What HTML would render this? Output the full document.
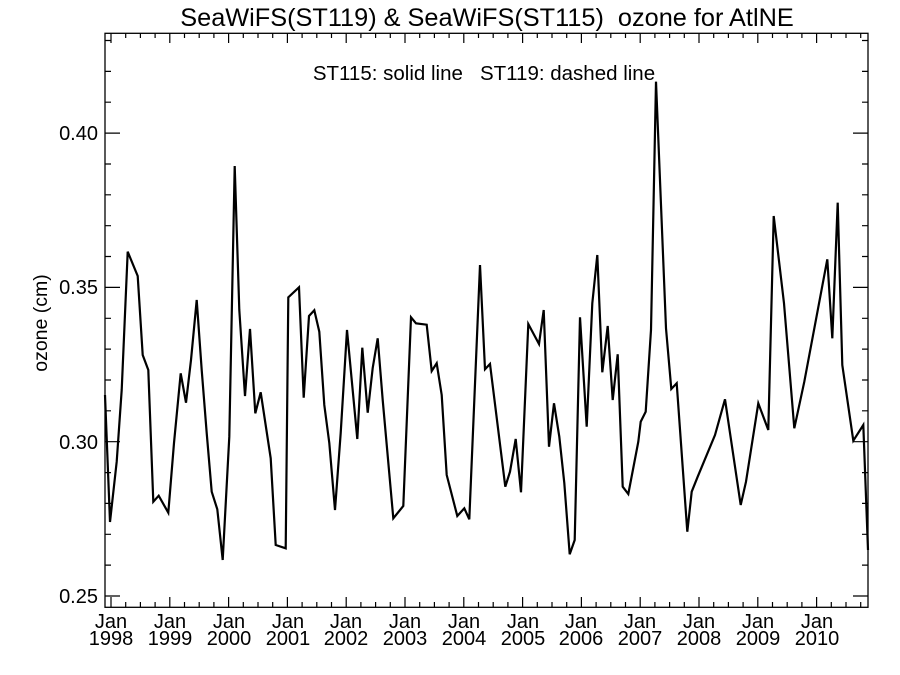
<!DOCTYPE html>
<html><head><meta charset="utf-8"><style>
html,body{margin:0;padding:0;background:#fff}
svg{display:block}
text{font-family:"Liberation Sans",Arial,sans-serif;fill:#000}
</style></head><body>
<svg width="900" height="675" viewBox="0 0 900 675" xmlns="http://www.w3.org/2000/svg">
<rect width="900" height="675" fill="#fff"/>
<text x="487" y="26" font-size="25.3" text-anchor="middle" xml:space="preserve">SeaWiFS(ST119) &amp; SeaWiFS(ST115)  ozone for AtlNE</text>
<text x="484" y="80" font-size="20.5" text-anchor="middle" xml:space="preserve">ST115: solid line   ST119: dashed line</text>
<rect x="105" y="33.3" width="763" height="574" fill="none" stroke="#000" stroke-width="1.3"/>
<g stroke="#000" stroke-width="1.2" fill="none">
<path d="M111 607v-10M125.7 607v-5M140.4 607v-5M155.1 607v-5M169.8 607v-10M184.5 607v-5M199.2 607v-5M213.9 607v-5M228.6 607v-10M243.3 607v-5M258 607v-5M272.7 607v-5M287.4 607v-10M302.1 607v-5M316.8 607v-5M331.5 607v-5M346.2 607v-10M360.9 607v-5M375.6 607v-5M390.3 607v-5M405 607v-10M419.7 607v-5M434.4 607v-5M449.1 607v-5M463.8 607v-10M478.5 607v-5M493.2 607v-5M507.9 607v-5M522.6 607v-10M537.3 607v-5M552 607v-5M566.7 607v-5M581.4 607v-10M596.1 607v-5M610.8 607v-5M625.5 607v-5M640.2 607v-10M654.9 607v-5M669.6 607v-5M684.3 607v-5M699 607v-10M713.7 607v-5M728.4 607v-5M743.1 607v-5M757.8 607v-10M772.5 607v-5M787.2 607v-5M801.9 607v-5M816.6 607v-10M831.3 607v-5M846 607v-5M860.7 607v-5"/>
<path d="M111 33v10M125.7 33v5M140.4 33v5M155.1 33v5M169.8 33v10M184.5 33v5M199.2 33v5M213.9 33v5M228.6 33v10M243.3 33v5M258 33v5M272.7 33v5M287.4 33v10M302.1 33v5M316.8 33v5M331.5 33v5M346.2 33v10M360.9 33v5M375.6 33v5M390.3 33v5M405 33v10M419.7 33v5M434.4 33v5M449.1 33v5M463.8 33v10M478.5 33v5M493.2 33v5M507.9 33v5M522.6 33v10M537.3 33v5M552 33v5M566.7 33v5M581.4 33v10M596.1 33v5M610.8 33v5M625.5 33v5M640.2 33v10M654.9 33v5M669.6 33v5M684.3 33v5M699 33v10M713.7 33v5M728.4 33v5M743.1 33v5M757.8 33v10M772.5 33v5M787.2 33v5M801.9 33v5M816.6 33v10M831.3 33v5M846 33v5M860.7 33v5"/>
<path d="M105 596h15M105 565.1h6M105 534.3h6M105 503.4h6M105 472.6h6M105 441.7h15M105 410.8h6M105 380h6M105 349.1h6M105 318.3h6M105 287.4h15M105 256.5h6M105 225.7h6M105 194.8h6M105 164h6M105 133.1h15M105 102.2h6M105 71.4h6M105 40.5h6"/>
<path d="M868 596h-15M868 565.1h-6M868 534.3h-6M868 503.4h-6M868 472.6h-6M868 441.7h-15M868 410.8h-6M868 380h-6M868 349.1h-6M868 318.3h-6M868 287.4h-15M868 256.5h-6M868 225.7h-6M868 194.8h-6M868 164h-6M868 133.1h-15M868 102.2h-6M868 71.4h-6M868 40.5h-6"/>
</g>
<g font-size="20" text-anchor="end">
<text x="98" y="603">0.25</text>
<text x="98" y="449">0.30</text>
<text x="98" y="294">0.35</text>
<text x="98" y="140">0.40</text>
</g>
<text transform="translate(47,323) rotate(-90)" font-size="19.5" text-anchor="middle">ozone (cm)</text>
<g font-size="20" text-anchor="middle">
<text x="111" y="628">Jan</text><text x="111" y="645">1998</text>
<text x="170" y="628">Jan</text><text x="170" y="645">1999</text>
<text x="229" y="628">Jan</text><text x="229" y="645">2000</text>
<text x="288" y="628">Jan</text><text x="288" y="645">2001</text>
<text x="346" y="628">Jan</text><text x="346" y="645">2002</text>
<text x="405" y="628">Jan</text><text x="405" y="645">2003</text>
<text x="464" y="628">Jan</text><text x="464" y="645">2004</text>
<text x="523" y="628">Jan</text><text x="523" y="645">2005</text>
<text x="581" y="628">Jan</text><text x="581" y="645">2006</text>
<text x="640" y="628">Jan</text><text x="640" y="645">2007</text>
<text x="699" y="628">Jan</text><text x="699" y="645">2008</text>
<text x="758" y="628">Jan</text><text x="758" y="645">2009</text>
<text x="817" y="628">Jan</text><text x="817" y="645">2010</text>
</g>
<polyline fill="none" stroke="#000" stroke-width="2.2" stroke-linejoin="miter" points="105,395 110,522 116.7,461.7 121.7,390 127.7,251.7 137.7,276 142.7,355 148.3,370 153.3,501.7 158.7,495.7 168.3,512.7 174,443 180.7,373.3 186,402.7 191,360 196.7,300 201.7,370 206.7,433 211.7,491.7 217.3,509.3 222.7,560 229.3,436.7 234.7,166 239.3,310 245,396 250,329 255.3,413.3 260.7,392.3 270.7,458.3 275.7,545 285.7,548.3 288.3,297.3 299,287.3 303.7,397.7 309,316 314.3,310.3 319.3,331.7 324.3,405 329.3,443 335,510 340.7,433 347,330 357.3,439 362.3,347.7 367.7,412.7 372.7,368 377.7,338.3 382.7,400 393.3,518.3 403.3,506 411,317.3 416,323.3 426.7,324.7 431.7,371 436.7,363.3 441.7,395 446.7,475 457.3,516 464.3,508.3 469.3,519.3 480,265 485,369.3 490,364 505.3,486.7 510,471.7 515.7,439 521,492.3 528.3,324 539,344 543.7,310 549,446.7 554,403.3 559.3,436.7 564.3,483 569.7,554.3 574.7,540 580,317.3 586.7,426.7 592.3,303.3 597.3,255 602.3,372.3 607.7,326 612.7,400 617.7,354.3 622.7,486.7 628.3,494 638.3,441.7 640.7,421.7 645.7,411.7 651,330 656,81.7 666,328.3 671.3,389 676.7,383.3 687.3,531.7 691.7,491.7 697.7,476.7 715,435 725,399.3 740.7,505 746,481.7 758.3,403.3 768.3,430 773.7,216 784,303.3 794.3,428.3 804.3,381.7 827.3,259.3 832.3,338.3 837.7,202.7 842.3,365 853.3,440.7 863.3,425 868,550"/>
</svg>
</body></html>
